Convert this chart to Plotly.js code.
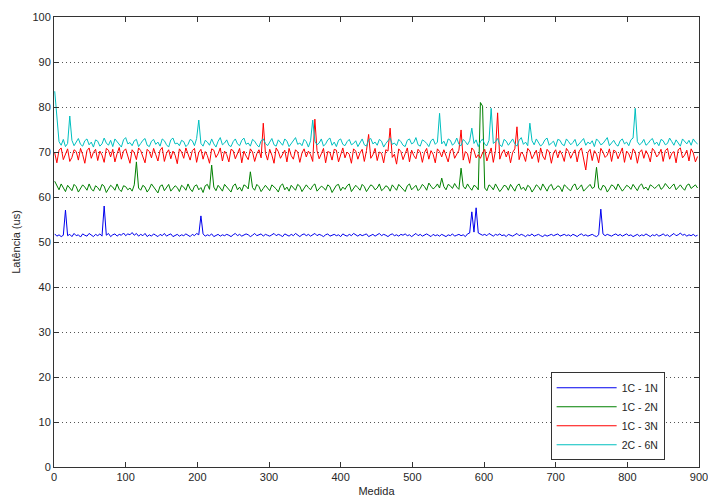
<!DOCTYPE html>
<html>
<head>
<meta charset="utf-8">
<script src="https://cdn.plot.ly/plotly-3.0.1.min.js"></script>
<style>html,body{margin:0;padding:0;background:#fff;}#chart{width:708px;height:498px;}</style>
</head>
<body>
<div id="chart"></div>
<script>
// Sample step along "Medida" (values read every 3 measurements)
const step = 3;
const seriesNames = ["1C - 1N", "1C - 2N", "1C - 3N", "2C - 6N"];
const seriesColors = ["#0000ee", "#008000", "#ff0000", "#00bfbf"];

const lat1C1N = [
51.8,51.3,51.6,51.2,51.5,57.1,51.4,51.7,51.2,51.9,51.4,51.6,51.1,51.8,51.5,51.3,51.9,51.6,51.2,51.7,
51.4,51.8,51.3,58.0,51.5,51.9,51.2,51.6,51.8,51.3,51.7,51.5,52.0,51.4,51.8,51.6,52.1,51.5,51.9,51.3,
51.7,51.4,51.9,51.2,51.6,51.3,51.8,51.5,51.2,51.7,51.4,51.9,51.3,51.6,51.8,51.2,51.5,51.7,51.3,51.6,
51.4,51.8,51.5,51.2,51.7,51.4,51.9,51.6,55.8,51.8,51.3,51.6,51.4,51.8,51.2,51.5,51.7,51.3,51.6,51.4,
51.7,51.5,51.2,51.6,51.9,51.4,51.7,51.3,51.5,51.8,51.6,51.2,51.5,51.9,51.4,51.6,51.8,51.3,51.7,51.5,
51.3,51.6,51.9,51.4,51.7,51.5,51.2,51.8,51.6,51.3,51.7,51.4,51.9,51.5,51.2,51.6,51.8,51.4,51.7,51.3,
51.6,51.9,51.4,51.7,51.5,51.2,51.6,51.8,51.3,51.5,51.7,51.4,51.6,51.2,51.8,51.5,51.3,51.7,51.4,51.9,
51.5,51.3,51.7,51.4,51.6,51.8,51.2,51.5,51.7,51.3,51.6,51.9,51.4,51.7,51.5,51.2,51.6,51.8,51.4,51.6,
51.3,51.7,51.5,51.8,51.4,51.6,51.2,51.5,51.9,51.4,51.7,51.3,51.6,51.8,51.5,51.2,51.7,51.4,51.6,51.3,
51.7,51.5,51.2,51.6,51.4,51.8,51.3,51.5,51.7,51.4,51.6,51.2,51.8,52.0,56.7,52.2,57.6,52.0,51.8,51.5,
51.7,51.4,51.9,51.6,51.3,51.7,51.5,51.8,51.4,51.6,51.2,51.7,51.5,51.3,51.6,51.9,51.4,51.7,51.5,51.2,
51.6,51.4,51.8,51.3,51.5,51.7,51.4,51.2,51.6,51.3,51.5,51.7,51.4,51.6,51.8,51.3,51.5,51.7,51.4,51.6,
51.3,51.7,51.5,51.2,51.6,51.8,51.4,51.6,51.3,51.5,51.7,51.4,51.2,51.6,57.3,51.8,51.4,51.7,51.5,51.3,
51.6,51.8,51.4,51.7,51.3,51.5,51.8,51.4,51.6,51.2,51.5,51.7,51.3,51.6,51.4,51.8,51.5,51.2,51.6,51.4,
51.7,51.3,51.5,51.8,51.4,51.6,51.2,51.5,51.9,51.4,51.6,52.0,51.5,51.7,51.3,51.6,51.4,51.7,51.3,51.5
];

const lat1C2N = [
63.5,62.4,61.6,62.9,62.1,61.2,62.6,62.0,61.4,62.8,62.3,61.1,61.9,62.7,62.2,61.5,62.9,61.8,61.3,62.5,
62.1,61.4,62.8,62.4,61.0,61.9,62.6,62.2,61.5,62.9,61.7,61.2,62.5,62.3,61.6,62.0,61.3,62.7,67.8,62.0,
61.5,62.6,62.2,61.1,61.8,62.9,62.3,61.6,60.9,62.4,62.7,61.4,62.0,62.8,61.3,61.9,62.5,62.1,61.2,62.6,
62.2,61.5,62.9,61.8,61.2,62.4,62.7,61.6,62.1,61.0,62.5,62.8,61.7,67.1,62.2,61.4,62.6,62.0,61.3,62.8,
62.3,61.7,61.1,62.5,62.9,61.6,62.2,61.3,62.7,62.4,61.8,65.6,62.1,61.5,62.8,62.3,61.2,61.9,62.6,62.0,
61.4,62.7,62.3,61.8,61.1,62.5,62.9,61.6,62.2,61.3,62.6,62.0,61.5,62.8,62.4,61.2,61.9,62.7,62.1,61.6,
62.5,62.9,61.3,61.8,62.4,62.1,61.5,62.7,62.3,61.0,61.9,62.6,62.8,61.4,62.2,61.7,62.5,62.9,61.2,61.8,
62.6,62.1,61.5,62.8,62.3,61.2,61.9,62.7,62.4,61.6,62.0,62.9,61.4,61.8,62.5,62.2,61.3,62.7,62.1,61.5,
62.8,62.3,61.7,61.2,62.5,62.9,61.6,62.1,62.6,61.4,61.9,62.8,62.3,61.5,63.1,62.4,61.8,62.2,62.9,62.0,
64.2,62.3,61.6,62.8,62.5,61.9,63.0,62.2,61.7,66.4,62.4,61.8,62.9,62.1,61.5,62.6,62.3,61.6,81.0,80.2,
62.0,61.4,62.7,62.3,61.6,62.9,62.1,61.2,61.8,62.6,62.4,61.5,62.8,62.0,61.3,62.5,62.9,61.7,62.2,61.4,
62.6,62.2,61.1,61.8,62.7,62.3,61.5,62.9,62.0,61.3,62.4,62.8,61.6,61.9,62.5,62.2,61.2,62.7,62.3,61.7,
61.4,62.5,62.9,61.6,62.1,62.7,61.3,61.8,62.4,62.8,61.9,62.2,66.6,62.0,61.5,62.6,62.3,61.1,61.8,62.7,
62.4,61.6,62.9,62.2,61.3,61.9,62.6,62.3,61.7,62.8,62.1,61.4,62.5,62.9,61.8,62.2,61.5,62.7,62.4,61.9,
62.3,62.8,61.7,62.1,63.0,62.5,61.8,62.4,62.9,61.6,62.2,62.7,62.0,61.5,62.6,62.9,61.9,62.3,62.7,62.0
];

const lat1C3N = [
69.8,67.6,70.4,70.9,68.3,69.5,70.7,67.9,68.8,70.5,70.1,68.2,70.8,69.4,67.5,70.3,70.9,68.6,69.9,70.6,
68.1,70.2,69.3,67.7,70.8,70.4,68.9,70.6,67.8,69.6,71.0,68.4,70.2,70.7,69.1,67.5,70.5,69.8,68.3,70.9,
70.3,69.0,67.6,70.6,70.1,68.7,70.8,69.4,68.0,70.4,71.0,67.9,69.7,70.5,68.5,70.2,69.3,67.4,70.7,70.0,
68.6,70.9,69.5,68.2,70.3,70.8,67.7,69.9,70.6,68.4,70.1,69.2,67.5,70.7,70.4,68.8,69.6,70.9,68.0,70.2,
69.4,67.8,70.6,70.3,68.5,69.9,70.8,67.6,70.2,69.1,68.3,70.7,70.0,67.9,69.6,70.5,68.7,76.4,69.8,68.2,
70.6,69.3,67.5,70.9,70.1,68.6,69.7,70.4,67.8,70.8,69.2,68.4,70.5,70.0,67.7,69.8,70.7,68.9,70.2,69.4,
67.9,77.3,70.3,68.5,69.6,70.8,67.6,70.1,69.9,68.2,70.6,70.4,67.8,69.3,70.9,68.7,70.0,69.5,67.5,70.7,
70.2,68.4,69.8,70.6,67.9,70.3,73.9,68.6,69.4,70.8,68.1,70.0,69.7,67.6,70.5,70.2,75.3,68.8,69.5,67.3,
70.7,70.1,68.3,69.6,70.9,67.8,70.4,69.2,68.5,70.6,70.0,67.7,69.9,70.8,68.4,70.3,69.5,67.6,70.7,70.1,
68.9,70.5,69.3,67.8,70.2,70.8,68.6,69.7,70.4,74.9,68.2,70.1,69.6,67.5,70.9,70.3,68.7,69.4,68.6,69.8,
70.6,68.0,69.5,70.9,67.7,70.3,78.7,68.4,69.8,70.5,68.9,70.2,67.6,69.9,70.7,75.6,68.3,70.0,69.4,67.9,
70.8,70.2,68.5,69.6,70.4,67.7,70.9,69.1,68.3,70.6,70.0,67.5,69.8,70.5,68.7,70.3,69.4,67.9,70.8,70.1,
68.6,69.7,70.5,67.8,70.2,70.9,68.4,66.0,69.9,70.6,68.1,70.3,69.5,67.6,70.8,70.0,68.8,69.3,70.7,67.9,
70.4,70.1,68.5,69.8,70.9,67.7,70.2,69.6,68.3,70.7,70.0,67.5,69.9,70.5,68.6,70.3,69.4,67.8,70.8,70.2,
68.9,69.5,70.6,67.9,70.3,70.8,68.4,69.7,70.1,67.6,70.5,70.9,68.7,69.3,70.4,68.0,70.7,69.8,67.8,69.0
];

const lat2C6N = [
83.5,78.0,72.3,71.5,72.8,71.2,71.9,78.0,72.6,71.4,72.1,73.0,71.7,71.3,72.5,72.9,71.6,72.2,71.1,72.7,
72.4,71.3,71.8,73.1,72.0,71.5,72.6,71.2,72.9,72.3,71.6,71.1,72.7,73.2,71.8,72.1,71.4,72.5,72.8,71.2,
71.9,72.6,73.0,71.5,71.2,72.4,72.8,71.7,72.2,71.3,72.9,72.5,71.6,71.1,72.7,73.1,71.8,72.0,71.4,72.6,
72.3,71.2,71.7,72.8,72.5,71.4,73.0,77.1,71.9,71.3,72.6,72.2,71.5,72.9,71.8,71.1,72.4,73.2,71.6,72.0,
72.7,71.5,71.2,72.3,72.9,71.8,71.4,72.6,73.1,71.7,72.0,71.3,72.8,72.4,71.6,71.1,72.5,72.9,71.9,71.4,
72.2,73.0,71.6,71.3,72.7,72.1,71.5,72.9,72.4,71.2,71.8,72.6,73.2,71.7,72.0,71.4,72.8,72.3,71.1,72.5,
77.1,72.4,71.6,72.0,72.9,71.3,71.8,72.7,73.1,71.5,72.2,71.2,72.6,72.9,71.7,71.4,72.3,72.8,71.6,71.9,
72.5,71.2,72.1,72.9,71.6,71.3,72.7,73.0,71.8,72.2,71.5,72.8,72.4,71.1,71.9,72.6,73.1,71.7,72.0,71.4,
72.8,72.3,71.5,71.2,72.6,72.9,71.8,72.1,73.2,71.6,71.3,72.7,72.4,71.9,71.2,72.5,72.9,71.7,72.2,78.6,
71.8,72.4,71.3,72.9,72.6,71.5,72.0,73.1,71.7,71.4,72.8,72.3,71.6,72.5,75.3,71.9,72.7,71.2,72.3,72.9,
71.7,71.4,72.6,79.7,71.9,72.3,73.0,71.6,71.2,72.8,72.4,71.5,72.1,72.9,71.8,71.3,72.6,73.2,71.7,72.2,
71.4,76.4,72.5,71.6,72.9,72.2,71.3,71.8,72.7,73.1,71.5,72.0,72.4,71.2,72.8,72.6,71.7,71.4,72.9,72.3,
71.6,72.1,72.8,71.3,71.9,72.6,73.0,71.5,72.2,71.8,72.5,71.2,72.9,72.4,71.6,71.9,72.7,73.2,71.4,72.0,
72.6,71.7,71.3,72.5,72.9,71.8,72.2,71.4,72.7,73.1,79.7,72.3,71.6,72.0,72.8,71.5,71.9,72.6,73.0,71.7,
72.2,71.4,72.8,72.5,71.6,71.9,73.1,72.3,71.5,72.7,72.1,71.3,72.9,72.4,71.8,72.6,71.5,72.9,72.2,71.8
];

const xTicks = [0,100,200,300,400,500,600,700,800,900];
const yTicks = [0,10,20,30,40,50,60,70,80,90,100];

const allSeries = [lat1C1N, lat1C2N, lat1C3N, lat2C6N];
const traces = allSeries.map((vals, k) => ({
  type: 'scatter',
  mode: 'lines',
  name: seriesNames[k],
  x: vals.map((_, i) => 1 + i * step),
  y: vals,
  line: {color: seriesColors[k], width: 1}
}));

const font = {family: 'Liberation Sans, Arial, sans-serif', size: 11, color: '#262626'};

const layout = {
  width: 708, height: 498,
  margin: {l: 54, r: 9, t: 17, b: 31},
  paper_bgcolor: '#ffffff',
  plot_bgcolor: '#ffffff',
  font: font,
  showlegend: true,
  xaxis: {
    range: [0, 900],
    tickvals: xTicks,
    ticktext: xTicks.map(String),
    ticks: 'inside', ticklen: 5, tickcolor: '#333',
    ticklabeloverflow: 'allow',
    showline: true, linecolor: '#333', linewidth: 1, mirror: 'ticks',
    showgrid: false, zeroline: false,
    title: {text: 'Medida', font: {size: 11, color: '#262626'}, standoff: 5},
    tickfont: {size: 11}
  },
  yaxis: {
    range: [0, 100],
    tickvals: yTicks,
    ticktext: yTicks.map(String),
    ticks: 'inside', ticklen: 5, tickcolor: '#333',
    showline: true, linecolor: '#333', linewidth: 1, mirror: 'ticks',
    showgrid: true, gridcolor: '#555', griddash: '1px,3px', gridwidth: 1,
    zeroline: false,
    title: {text: 'Latência (us)', font: {size: 11, color: '#262626'}, standoff: 9},
    tickfont: {size: 11}
  },
  legend: {
    x: 0.77, y: 0.015, xanchor: 'left', yanchor: 'bottom',
    bgcolor: '#ffffff', bordercolor: '#333', borderwidth: 1,
    font: {size: 10.5, color: '#262626'},
    tracegroupgap: 0, itemwidth: 60, entrywidth: 132
  }
};

Plotly.newPlot('chart', traces, layout, {displayModeBar: false, staticPlot: true});
</script>
</body>
</html>
